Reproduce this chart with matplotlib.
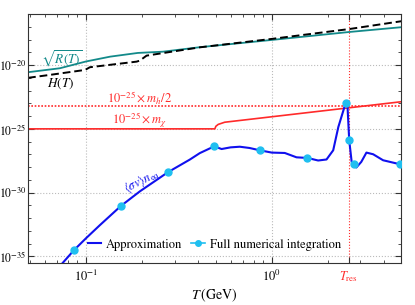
import numpy as np
import matplotlib
matplotlib.use("Agg")
import matplotlib.pyplot as plt
from matplotlib.lines import Line2D
from matplotlib.ticker import FixedLocator, LogLocator, NullFormatter

plt.rcParams['font.family'] = 'STIXGeneral'
plt.rcParams['mathtext.fontset'] = 'stix'
plt.rcParams['axes.formatter.use_mathtext'] = True

# values (log10 of rates, GeV)
T_res = 2.6
mh_half_log = -23.23

T_R = [0.0488, 0.0724, 0.1, 0.135, 0.19, 0.26, 0.41, 1.0, 2.6, 5.0]
R_log = [-20.56, -20.25, -19.72, -19.34, -19.05, -18.95, -18.6, -18.03, -17.41, -17.03]

T_H = [0.0488, 0.064, 0.099, 0.105, 0.1875, 0.195, 0.212, 0.41, 1.0, 2.63, 5.0]
H_log = [-21.0, -20.77, -20.38, -20.17, -19.73, -19.65, -19.26, -18.61, -17.95, -17.17, -16.56]

T_mx = [0.0488, 0.494, 0.50, 0.515, 0.54, 0.558, 5.0]
mx_log = [-25.0, -25.0, -24.8, -24.65, -24.55, -24.48, -22.87]

T_approx = [0.070, 0.0862, 0.1, 0.119, 0.154, 0.195, 0.276, 0.362, 0.41, 0.49, 0.537,
            0.60, 0.673, 0.76, 0.861, 1.0, 1.175, 1.358, 1.556, 1.776, 1.97, 2.14,
            2.28, 2.50, 2.55, 2.61, 2.69, 2.77, 2.85, 3.03, 3.23, 3.51, 3.97, 4.88, 5.0]
approx_log = [-36.0, -34.51, -33.58, -32.54, -31.05, -29.9, -28.40, -27.41, -26.9, -26.37, -26.58,
              -26.45, -26.40, -26.5, -26.68, -26.86, -26.89, -27.23, -27.28, -27.48, -27.4, -26.68,
              -24.86, -22.95, -23.0, -25.9, -27.59, -27.77, -28.03, -27.59, -26.86, -26.99, -27.46, -27.77, -27.8]

T_num = [0.0862, 0.154, 0.276, 0.49, 0.861, 1.556, 2.50, 2.61, 2.77, 4.88]
num_log = [-34.51, -31.05, -28.40, -26.37, -26.68, -27.28, -22.95, -25.9, -27.77, -27.77]

blue = '#1010ee'
cyan = '#1fbff0'
teal = '#138a8a'
red = '#ff2a2a'

fig = plt.figure(figsize=(4.15, 3.05), dpi=100)
ax = fig.add_axes([0.0675, 0.137, 0.8985, 0.817])

ax.plot(T_R, 10.0**np.array(R_log), color=teal, lw=1.3)
ax.plot(T_H, 10.0**np.array(H_log), color='black', lw=1.4, ls=(0, (4, 2)))
ax.plot(T_mx, 10.0**np.array(mx_log), color=red, lw=1.2)
ax.axhline(10.0**mh_half_log, color=red, lw=1.2, ls=(0, (1, 1)))
ax.plot(T_approx, 10.0**np.array(approx_log), color=blue, lw=1.5, zorder=3)
ax.plot(T_num, 10.0**np.array(num_log), ls='none', marker='o', ms=5, color=cyan, zorder=4)

for xv in [0.1, 1.0]:
    ax.axvline(xv, color='#bbbbbb', lw=0.8, ls=':', zorder=0)
for yv in [1e-35, 1e-30, 1e-25, 1e-20]:
    ax.axhline(yv, color='#bbbbbb', lw=0.8, ls=':', zorder=0)
ax.axvline(T_res, color=red, lw=0.8, ls=':', zorder=0)

ax.set_xscale('log')
ax.set_yscale('log')
ax.set_xlim(0.0488, 4.95)
ax.set_ylim(10**-35.53, 1e-16)

ax.set_xticks([0.1, 1.0, T_res])
ax.set_xticklabels([r'$10^{-1}$', r'$10^{0}$', r'$T_{\rm res}$'])
ax.get_xticklabels()[2].set_color(red)
ax.xaxis.set_minor_locator(LogLocator(base=10, subs=np.arange(2, 10)))
ax.xaxis.set_minor_formatter(NullFormatter())
ax.yaxis.set_major_locator(FixedLocator([1e-35, 1e-30, 1e-25, 1e-20]))
ax.set_yticklabels([r'$10^{-35}$', r'$10^{-30}$', r'$10^{-25}$', r'$10^{-20}$'])
ax.yaxis.set_minor_locator(FixedLocator([10.0**k for k in range(-36, -15)]))
ax.yaxis.set_minor_formatter(NullFormatter())
ax.tick_params(which='both', direction='in', top=True, right=True, labelsize=9, color='#333333')
ax.tick_params(axis='y', labelsize=8.5, pad=1)
ax.tick_params(which='major', length=4)
ax.tick_params(which='minor', length=2.5)
ax.tick_params(axis='x', pad=4)
for s in ax.spines.values():
    s.set_color('#333333')

ax.set_xlabel(r'$T\,(\mathrm{GeV})$', fontsize=10, labelpad=2)

ax.text(0.0743, 10**-19.5, r'$\sqrt{R(T)}$', color=teal, fontsize=9.5, ha='center', va='center')
ax.text(0.0735, 10**-21.45, r'$H(T)$', color='black', fontsize=9.5, ha='center', va='center')
ax.text(0.195, 10**-22.59, r'$10^{-25}\times m_h/2$', color=red, fontsize=9, ha='center', va='center')
ax.text(0.195, 10**-24.34, r'$10^{-25}\times m_\chi$', color=red, fontsize=9, ha='center', va='center')
ax.text(0.2, 10**-29.1, r'$\langle\sigma v\rangle n_{\rm eq}$', color=blue, fontsize=9,
        ha='center', va='center', rotation=27)

handles = [Line2D([], [], color=blue, lw=1.5),
           Line2D([], [], color=cyan, lw=1.2, marker='o', ms=4)]
ax.legend(handles, ['Approximation', 'Full numerical integration'], loc='lower center',
          ncol=2, frameon=False, fontsize=9, handlelength=1.1, columnspacing=0.7,
          handletextpad=0.4, bbox_to_anchor=(0.5, 0.0), borderaxespad=0.6)

fig.savefig('out.png', dpi=100)
